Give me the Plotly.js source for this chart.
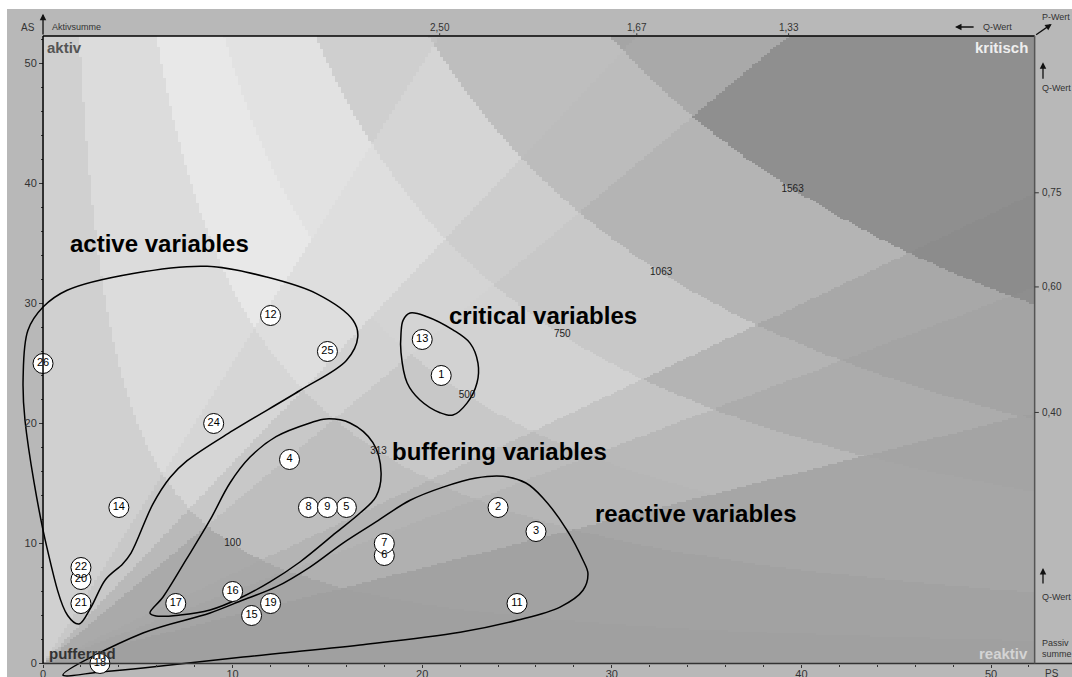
<!DOCTYPE html>
<html><head><meta charset="utf-8">
<script src="https://cdn.plot.ly/plotly-3.0.1.min.js"></script>
<style>html,body{margin:0;padding:0;background:#fff;}#chart{width:1072px;height:677px;}</style>
</head><body><div id="chart"></div>
<script>
// ---- data ----
const varIds = ['1','2','3','4','5','6','7','8','9','11','12','13','14','15','16','17','18','19','20','21','22','24','25','26'];
const passivSum = [21,24,26,13,16,18,18,14,15,25,12,20,4,11,10,7,3,12,2,2,2,9,15,0];
const aktivSum  = [24,13,11,17,13,9,10,13,13,5,29,27,13,4,6,5,0,5,7,5,8,20,26,25];

const hypLevels = [100, 313, 500, 750, 1063, 1563];
const qTop = [2.50, 1.67, 1.33];
const qRight = [0.75, 0.60, 0.40];
const xTicks = [0,10,20,30,40,50];
const yTicks = [0,10,20,30,40,50];
const minorTicks = [2,4,6,8,12,14,16,18,22,24,26,28,32,34,36,38,42,44,46,48,52];

// gray per band: rows = product band (0..6), cols = Q band (0..6, low Q -> high Q)
const bandGray = [
  [160,165,168,170,185,200,208],
  [162,176,180,190,200,214,220],
  [166,182,188,200,210,222,232],
  [166,184,196,210,212,222,226],
  [164,172,180,200,205,213,207],
  [160,164,168,180,188,190,195],
  [150,142,140,143,169,165,170]
];

const activeP = [8.65,11.8,14.45,16.35,16.6,16.0,13.55,10.0,7.6,6.7,5.8,4.64,4.2,3.3,2.5,1.9,1.3,0.2,-0.95,-1.05,-0.8,0,1.27,4.75];
const activeA = [33.1,32.2,30.8,28.6,27.2,25.25,22.75,19.4,16.9,15.5,13.3,9.2,8.3,7.0,4.6,3.3,4.0,9.7,20.25,23.8,27.75,29.7,31.1,32.5];

const bufferP = [5.64,6.33,7.54,8.81,9.86,10.92,12.29,14.08,14.93,16.19,17.4,17.83,17.56,16.72,15.45,13.55,11.97,10.4,8.81,7.23,5.96];
const bufferA = [4.2,5.54,8.63,11.96,15.04,17.2,18.9,20.04,20.38,20.04,18.4,15.9,13.9,12.54,10.9,8.46,6.8,5.46,4.46,4.04,3.96];

const criticalP = [19.36,20.25,21.62,22.52,22.94,22.89,22.36,21.62,20.94,19.88,19.2,18.88,18.88,18.99];
const criticalA = [29.2,28.9,27.8,26.7,25.04,23.4,21.7,20.7,20.9,21.96,23.4,25.9,27.5,28.6];

const reactiveP = [1.05,5.27,8.81,10.55,12.29,14.08,15.82,17.56,19.36,21.1,22.84,24.26,25.47,26.37,27.64,28.48,28.74,28.48,27.27,25.0,22.0,16.72,10.55,5.27,3.0];
const reactiveA = [-0.96,2.54,4.21,5.29,6.38,8.04,10.04,11.8,13.6,14.7,15.46,15.6,15.04,13.8,11.1,8.6,7.5,6.1,4.7,3.6,2.6,1.54,0.54,-0.375,-0.71];

const groupNames = ['active variables','critical variables','buffering variables','reactive variables'];
const groupLabelP = [1.3, 21.3, 18.3, 29.0];
const groupLabelA = [35.04, 28.96, 17.63, 12.46];

// ---- geometry ----
const PMAX = 52.3, AMAX = 52.3;
const FONT = 'Liberation Sans, Arial, sans-serif';

// background raster from the band levels
const qBounds = qRight.slice().sort((a,b)=>a-b).concat(qTop.slice().sort((a,b)=>a-b));
const N = 330, dx = PMAX/N, dy = AMAX/N;
const z = [];
for (let j=0;j<N;j++){
  const a=(j+0.5)*dy; const row=[];
  for (let i=0;i<N;i++){
    const p=(i+0.5)*dx; const prod=p*a; const q=a/p;
    let h=0; hypLevels.forEach(L=>{ if(prod>L) h++; });
    let r=0; qBounds.forEach(b=>{ if(q>b) r++; });
    row.push(bandGray[h][r]);
  }
  z.push(row);
}

function closed(arr){ return arr.concat([arr[0]]); }

const traces = [];
traces.push({type:'heatmap', z:z, x0:dx/2, dx:dx, y0:dy/2, dy:dy, zmin:0, zmax:255, zsmooth:false,
  colorscale:[[0,'rgb(0,0,0)'],[1,'rgb(255,255,255)']], showscale:false, hoverinfo:'skip'});

[[activeP,activeA],[bufferP,bufferA],[criticalP,criticalA],[reactiveP,reactiveA]].forEach(g=>{
  traces.push({type:'scatter', mode:'lines', x:closed(g[0]), y:closed(g[1]),
    line:{color:'#000', width:1.5, shape:'spline', smoothing:1}, hoverinfo:'skip', showlegend:false});
});

traces.push({type:'scatter', mode:'text', x:hypLevels.map(Math.sqrt), y:hypLevels.map(Math.sqrt),
  text:hypLevels.map(String), textfont:{family:FONT, size:10, color:'#222'}, hoverinfo:'skip', showlegend:false, cliponaxis:false});

traces.push({type:'scatter', mode:'markers+text', x:passivSum, y:aktivSum, text:varIds,
  textposition:'middle center', textfont:{family:FONT, size:11, color:'rgb(0,0,0)'},
  marker:{size:20, color:'#fff', line:{color:'#000', width:1}}, cliponaxis:false, showlegend:false});

const shapes = [
  {type:'line', x0:0, y0:0, x1:54.4, y1:0, line:{color:'#333', width:1.5}},
  {type:'line', x0:0, y0:AMAX, x1:PMAX, y1:AMAX, line:{color:'#000', width:1.5}},
  {type:'line', x0:PMAX, y0:0, x1:PMAX, y1:AMAX, line:{color:'#555', width:1.5}},
  {type:'line', x0:0, y0:0, x1:0, y1:AMAX, line:{color:'#000', width:1.5}}
];
qTop.forEach(q=>shapes.push({type:'line', x0:PMAX/q, x1:PMAX/q, y0:AMAX, y1:AMAX+0.22, line:{color:'#333', width:1}}));
qRight.forEach(q=>shapes.push({type:'line', x0:PMAX, x1:PMAX+0.22, y0:AMAX*q, y1:AMAX*q, line:{color:'#333', width:1}}));

const ann = [];
function txt(x,y,t,opt){ ann.push(Object.assign({x:x,y:y,xref:'x',yref:'y',text:t,showarrow:false,
  font:{family:FONT,size:9,color:'#333'},xanchor:'left',yanchor:'middle'},opt||{})); }
function arrow(x,y,ax,ay){ ann.push({x:x,y:y,ax:ax,ay:ay,xref:'x',yref:'y',axref:'x',ayref:'y',text:'',
  showarrow:true,arrowhead:2,arrowsize:1,arrowwidth:1.3,arrowcolor:'#111'}); }

qTop.forEach(q=>txt(PMAX/q, 53.04, q.toFixed(2).replace('.',','), {xanchor:'center', font:{family:FONT,size:10,color:'#333'}}));
qRight.forEach(q=>txt(PMAX+0.3, AMAX*q, q.toFixed(2).replace('.',','), {font:{family:FONT,size:10,color:'#333'}}));

txt(-0.3, 53.04, 'AS', {xanchor:'right', font:{family:FONT,size:10,color:'#333'}});
txt(0.37, 53.04, 'Aktivsumme');
txt(49.47, 53.04, 'Q-Wert');
txt(52.58, 53.9, 'P-Wert');
txt(52.6, 47.96, 'Q-Wert');
txt(52.6, 5.54, 'Q-Wert');
txt(52.6, 1.75, 'Passiv');
txt(52.6, 0.8, 'summe');
txt(52.75, -0.8, 'PS', {font:{family:FONT,size:10,color:'#333'}});

arrow(0, 54.15, 0, AMAX);
arrow(48.1, 53.04, 49.16, 53.04);
arrow(53.2, 53.3, PMAX, AMAX);
arrow(52.74, 50.1, 52.74, 48.6);
arrow(52.74, 7.96, 52.74, 6.54);

txt(0.1, 51.3, '<b>aktiv</b>', {font:{family:FONT,size:15,color:'#555'}});
txt(52.06, 51.3, '<b>kritisch</b>', {xanchor:'right', font:{family:FONT,size:15,color:'#eeeeee'}});
txt(0.2, 0.875, '<b>pufferrnd</b>', {font:{family:FONT,size:15,color:'#333'}});
txt(52.06, 0.875, '<b>reaktiv</b>', {xanchor:'right', font:{family:FONT,size:15,color:'#d4d4d4'}});

groupNames.forEach((g,i)=>txt(groupLabelP[i], groupLabelA[i], '<b>'+g+'</b>', {font:{family:FONT,size:24,color:'#000'}}));

const layout = {
  width:1072, height:677,
  margin:{l:7, r:0, t:9, b:0, pad:0},
  paper_bgcolor:'#ffffff', plot_bgcolor:'#b8b8b8',
  showlegend:false,
  xaxis:{range:[-1.9, 54.27], anchor:'free', position:(677-663.5)/668, showgrid:false, zeroline:false, showline:false,
    tickvals:xTicks, ticktext:xTicks.map(String), ticks:'outside', ticklen:3, tickcolor:'#333',
    ticklabelstandoff:-3,
    tickfont:{family:FONT, size:11, color:'#333'},
    minor:{tickvals:minorTicks, ticks:'outside', ticklen:2, tickcolor:'#333'}, fixedrange:true},
  yaxis:{range:[-1.125, 54.54], anchor:'free', position:36/1065, showgrid:false, zeroline:false, showline:false,
    tickvals:yTicks, ticktext:yTicks.map(String), ticks:'outside', ticklen:4, tickcolor:'#333',
    tickfont:{family:FONT, size:11, color:'#333'},
    minor:{tickvals:minorTicks, ticks:'outside', ticklen:2, tickcolor:'#333'}, fixedrange:true},
  shapes:shapes, annotations:ann
};
Plotly.newPlot('chart', traces, layout, {displayModeBar:false, staticPlot:true});
</script></body></html>
